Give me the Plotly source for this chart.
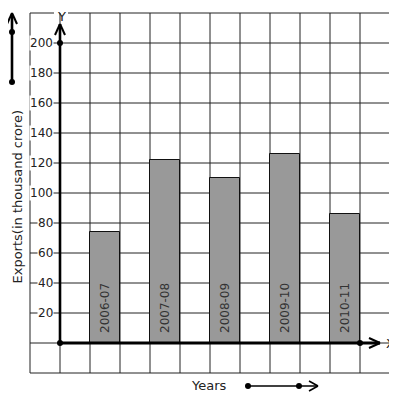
import plotly.graph_objects as go

years = ["2006-07", "2007-08", "2008-09", "2009-10", "2010-11"]
exports = [74, 122, 110, 126, 86]
bar_pos = [1.5, 3.5, 5.5, 7.5, 9.5]
y_ticks = [20, 40, 60, 80, 100, 120, 140, 160, 180, 200]

W, H = 397, 399
OFF = 8  # default page body margin in the browser
X0PX, Y0PX, CX, CY = 60, 343, 30.0, 1.5  # screen pixel of origin, px per unit


def u(px):
    return (px - X0PX) / CX


def v(py):
    return (Y0PX - py) / CY


FONT = "DejaVu Sans"
GRID = "#222222"
fig = go.Figure()

fig.add_trace(go.Bar(
    x=bar_pos, y=exports, width=1,
    marker=dict(color="#999999", line=dict(color="#111111", width=1)),
    hoverinfo="skip", showlegend=False,
))

shapes = []
for gx in range(-1, 12):
    shapes.append(dict(type="line", x0=gx, x1=gx, y0=-20, y1=220, layer="below",
                       line=dict(color=GRID, width=1)))
for gy in range(-20, 220, 20):
    shapes.append(dict(type="line", x0=-1, x1=11, y0=gy, y1=gy, layer="below",
                       line=dict(color=GRID, width=1)))
# top border, broken around the "Y" label
shapes.append(dict(type="line", x0=-1, x1=u(54), y0=220, y1=220, layer="below",
                   line=dict(color=GRID, width=1)))
shapes.append(dict(type="line", x0=u(68), x1=11, y0=220, y1=220, layer="below",
                   line=dict(color=GRID, width=1)))


def seg(p1, p2, w):
    shapes.append(dict(type="line", x0=u(p1[0]), y0=v(p1[1]), x1=u(p2[0]), y1=v(p2[1]),
                       layer="above", line=dict(color="black", width=w)))


# y axis with arrow
seg((60, 343), (60, 24), 2.6)
seg((60, 24), (55, 35), 2)
seg((60, 24), (65, 35), 2)
# x axis with arrow
seg((60, 343), (380, 343), 2.8)
seg((380, 343), (369, 338), 2)
seg((380, 343), (369, 348), 2)
# left decorative arrow
seg((12, 82), (12, 14), 2.6)
seg((12, 13), (7, 24), 2)
seg((12, 13), (17, 24), 2)
# years arrow
seg((248, 386), (318, 386), 1.6)
seg((318, 386), (309, 381), 1.6)
seg((318, 386), (309, 391), 1.6)

fig.add_trace(go.Scatter(
    x=[u(60), u(60), u(360), u(12), u(12), u(248), u(299)],
    y=[v(43), v(343), v(343), v(32), v(82), v(386), v(386)],
    mode="markers", marker=dict(color="black", size=6),
    hoverinfo="skip", showlegend=False, cliponaxis=False,
))

ann = []
for t in y_ticks:
    ann.append(dict(x=u(54), y=t, text=str(t), showarrow=False, xanchor="right",
                    yanchor="middle", bgcolor="white", borderpad=0,
                    font=dict(family=FONT, size=12, color="#222222")))
for xp, lab in zip(bar_pos, years):
    ann.append(dict(x=xp, y=v(308), text=lab, textangle=-90, showarrow=False,
                    font=dict(family=FONT, size=12, color="#333333")))
ann.append(dict(x=u(61), y=v(OFF), text="Y", showarrow=False, yanchor="top",
                borderpad=0, font=dict(family=FONT, size=13, color="#222222")))
ann.append(dict(x=u(396), y=v(343), text="X", showarrow=False, xanchor="right",
                borderpad=0, font=dict(family=FONT, size=13, color="#222222")))
ann.append(dict(x=u(209), y=v(385), text="Years", showarrow=False,
                font=dict(family=FONT, size=13, color="#222222")))
ann.append(dict(x=u(OFF), y=v(197), text="Exports(in thousand crore)", textangle=-90,
                xanchor="left", borderpad=0, showarrow=False,
                font=dict(family=FONT, size=13, color="#222222")))

fig.update_layout(
    width=W - OFF, height=H - OFF, autosize=False,
    margin=dict(l=0, r=0, t=0, b=0, pad=0),
    paper_bgcolor="white", plot_bgcolor="white",
    shapes=shapes, annotations=ann, bargap=0,
    xaxis=dict(range=[u(OFF), u(W)], visible=False, fixedrange=True),
    yaxis=dict(range=[v(H), v(OFF)], visible=False, fixedrange=True),
)

fig.write_html("out.html")
